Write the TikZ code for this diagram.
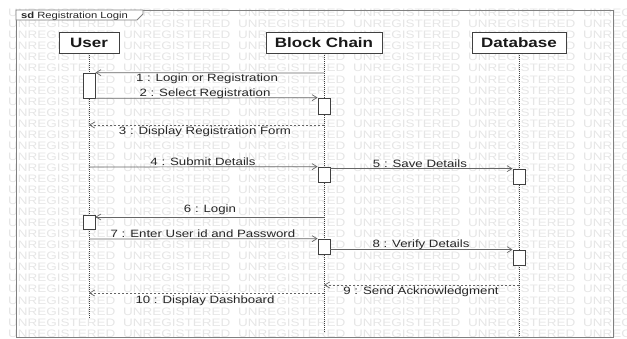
\documentclass[tikz,border=0pt]{standalone}
\usepackage{fontspec}
\setmainfont{Liberation Sans}[FakeStretch=1.25]
\usetikzlibrary{arrows.meta}

\definecolor{wmgray}{HTML}{E6E6E6}
\definecolor{linegray}{HTML}{666666}
\definecolor{boxgray}{HTML}{404040}
\definecolor{framegray}{HTML}{808080}

\begin{document}
\begin{tikzpicture}[x=1pt,y=-1pt,
  head/.style={draw=boxgray, line width=0.8pt, fill=white, minimum height=21pt,
    inner sep=0pt, font=\fontsize{13.6}{15}\selectfont\bfseries, text=black!90},
  act/.style={draw=boxgray, line width=0.7pt, fill=white, minimum width=12pt, inner sep=0pt},
  life/.style={draw=boxgray, line width=0.7pt, dash pattern=on 1pt off 1pt},
  msg/.style={draw=linegray, line width=0.7pt, -{Straight Barb[length=5pt,width=6pt]}},
  reply/.style={msg, dash pattern=on 2pt off 2pt},
  lbl/.style={font=\fontsize{10.6}{12}\selectfont, text=black!85, anchor=base, inner sep=0pt},
  wmark/.style={font=\fontsize{10.8}{12}\selectfont, text=wmgray, anchor=base west, inner sep=0pt}]

\useasboundingbox (0,0) rectangle (627,338);
\fill[white] (0,0) rectangle (627,338);

% tiled background lettering
\begin{scope}
  \clip (0,8) rectangle (627,338);
  \foreach \r in {0,...,29}{
    \foreach \c in {-1,...,5}{
      \node[wmark] (wm-\r-\c) at ({8+115*\c},{16.7+11.05*\r}) {UNREGISTERED};
    }
  }
\end{scope}

% frame with its name tab
\draw[framegray, line width=0.8pt] (16,10) rectangle (613,337);
\draw[framegray, line width=0.8pt, fill=white]
  (16,10) -- (143,10) -- (143,14) -- (137,20) -- (16,20) -- cycle;
\node[anchor=base west, inner sep=0pt, font=\fontsize{9}{10}\selectfont, text=black!85]
  (frametitle) at (21,18.2) {\textbf{sd}\hspace{3pt}Registration Login};

% participants
\node[head, minimum width=60pt]  (user)  at (89,42.5)  {User};
\node[head, minimum width=116pt] (chain) at (324,42.5) {Block Chain};
\node[head, minimum width=94pt]  (db)    at (519,42.5) {Database};

\coordinate (user-end)  at (89,319);
\coordinate (chain-end) at (324,332);
\coordinate (db-end)    at (519,336);
\draw[life] (user.south)  -- (user-end);
\draw[life] (chain.south) -- (chain-end);
\draw[life] (db.south)    -- (db-end);

% activations
\node[act, minimum height=25pt] (a1) at (89,85.5)  {};
\node[act, minimum height=16pt] (a2) at (324,106)  {};
\node[act, minimum height=15pt] (a3) at (324,174.5) {};
\node[act, minimum height=15pt] (a4) at (519,176.5) {};
\node[act, minimum height=14pt] (a5) at (89,222)   {};
\node[act, minimum height=15pt] (a6) at (324,246.5) {};
\node[act, minimum height=15pt] (a7) at (519,257.5) {};

% message anchors on the lifelines
\coordinate (m1)  at (324,73);
\coordinate (m3s) at (324,125);
\coordinate (m3e) at (89,125);
\coordinate (m4)  at (89,167);
\coordinate (m6)  at (324,217);
\coordinate (m7)  at (89,239);
\coordinate (m9s) at (519,285);
\coordinate (m9e) at (324,285);
\coordinate (m10s) at (324,293);
\coordinate (m10e) at (89,293);

% messages
\draw[msg]   (m1) -- (a1.north east);
\draw[msg]   (a1.south east) -- (a2.north west);
\draw[reply] (m3s) -- (m3e);
\draw[msg]   (m4) -- (a3.north west);
\draw[msg]   (a3.east |- a4.north) -- (a4.north west);
\draw[msg]   (m6) -- (m6 -| a5.east);
\draw[msg]   (m7) -- (a6.north west);
\draw[msg]   (a6.east |- a7.north) -- (a7.north west);
\draw[reply] (m9s) -- (m9e);
\draw[reply] (m10s) -- (m10e);

% message labels
\node[lbl] (l1)  at (207,81.8)  {1 : Login or Registration};
\node[lbl] (l2)  at (205,96)    {2 : Select Registration};
\node[lbl] (l3)  at (205,134.8) {3 : Display Registration Form};
\node[lbl] (l4)  at (203,165)   {4 : Submit Details};
\node[lbl] (l5)  at (420,167)   {5 : Save Details};
\node[lbl] (l6)  at (210,212)   {6 : Login};
\node[lbl] (l7)  at (203,237)   {7 : Enter User id and Password};
\node[lbl] (l8)  at (421,247)   {8 : Verify Details};
\node[lbl] (l9)  at (421,294)   {9 : Send Acknowledgment};
\node[lbl] (l10) at (205,303)   {10 : Display Dashboard};
\end{tikzpicture}
\end{document}
